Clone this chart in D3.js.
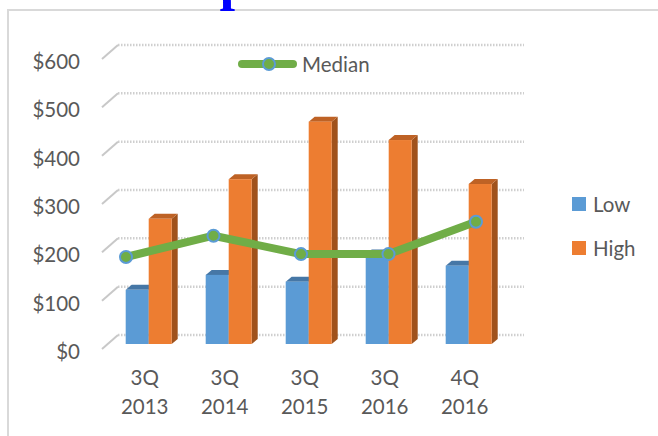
<!DOCTYPE html>
<html>
<head>
<meta charset="utf-8">
<script src="https://cdn.jsdelivr.net/npm/d3@7"></script>
<style>
  body { margin: 0; background: #fff; }
  text { font-family: Lato, 'Open Sans', sans-serif; fill: #595959; }
</style>
</head>
<body>
<svg id="chart"></svg>
<script>
// data
let quarters = ['3Q', '3Q', '3Q', '3Q', '4Q']
let years = ['2013', '2014', '2015', '2016', '2016']
let categories = ['3Q 2013', '3Q 2014', '3Q 2015', '3Q 2016', '4Q 2016']
let lowValues = [112, 143, 129, 185, 162]
let highValues = [259, 341, 460, 422, 331]
let medianValues = [180, 224, 186, 186, 253]
let yTicks = [0, 100, 200, 300, 400, 500, 600]
let seriesNames = ['Low', 'High']

let width = 658
let height = 436

// oblique "3D" offsets: floor depth and bar depth
let floorDx = 16, floorDy = -14
let barDx = 6, barDy = -5

let colors = { Low: '#5B9BD5', High: '#ED7D31' }
let topColors = { Low: '#4677A6', High: '#BE6225' }
let sideColors = { Low: '#3B6590', High: '#A0521C' }

let svg = d3.select('#chart').attr('width', width).attr('height', height)

// outer chart border (runs off the right and bottom edges)
svg.append('rect')
  .attr('x', 8).attr('y', 10)
  .attr('width', 700).attr('height', 500)
  .attr('fill', 'none')
  .attr('stroke', '#d9d9d9')
  .attr('stroke-width', 2)

// bit of a title cut off at the top
svg.append('text')
  .attr('x', 235).attr('y', -1)
  .attr('text-anchor', 'middle')
  .style('font-family', "'Liberation Serif', serif")
  .style('font-weight', 'bold')
  .style('font-size', '56px')
  .style('fill', '#0000ff')
  .text('p')

// scales
let yBack = d3.scaleLinear().domain([0, 600]).range([335, 45])
let yBar = v => yBack(v) + 9

let xGroup = d3.scaleBand()
  .domain(categories)
  .range([108.7, 508.7])
  .paddingInner(0.425)
  .paddingOuter(0.2125)

let xSub = d3.scaleBand().domain(seriesNames).range([0, xGroup.bandwidth()])

let xLine = d3.scalePoint().domain(categories).range([126, 476])

// back wall gridlines with a short floor diagonal at the left
let grid = svg.append('g')
grid.selectAll('line.h')
  .data(yTicks)
  .join('line')
  .attr('class', 'h')
  .attr('x1', 118).attr('x2', 524)
  .attr('y1', d => yBack(d)).attr('y2', d => yBack(d))
  .attr('stroke', '#cfcfcf')
  .attr('stroke-width', 2.5)
  .attr('stroke-dasharray', '1.5,1.5')
grid.selectAll('line.d')
  .data(yTicks)
  .join('line')
  .attr('class', 'd')
  .attr('x1', 118 - floorDx).attr('x2', 118)
  .attr('y1', d => yBack(d) - floorDy).attr('y2', d => yBack(d))
  .attr('stroke', '#c8c8c8')
  .attr('stroke-width', 2)

// y axis labels
svg.append('g')
  .selectAll('text')
  .data(yTicks)
  .join('text')
  .attr('x', 80)
  .attr('y', d => yBack(d) - floorDy + 2)
  .attr('text-anchor', 'end')
  .attr('dominant-baseline', 'central')
  .style('font-size', '20.5px')
  .text(d => '$' + d)

// bars, drawn as front face + top + right side
let barData = []
categories.forEach((c, i) => {
  barData.push({ cat: c, key: 'Low', value: lowValues[i] })
  barData.push({ cat: c, key: 'High', value: highValues[i] })
})

let bars = svg.append('g')
  .selectAll('g.bar')
  .data(barData)
  .join('g')
  .attr('class', 'bar')

bars.each(function (d) {
  let g = d3.select(this)
  let x0 = xGroup(d.cat) + xSub(d.key)
  let x1 = x0 + xSub.bandwidth()
  let yT = yBar(d.value)
  let yB = yBar(0)
  g.append('path')
    .attr('d', `M${x1},${yT}L${x1 + barDx},${yT + barDy}L${x1 + barDx},${yB + barDy}L${x1},${yB}Z`)
    .attr('fill', sideColors[d.key])
  g.append('path')
    .attr('d', `M${x0},${yT}L${x0 + barDx},${yT + barDy}L${x1 + barDx},${yT + barDy}L${x1},${yT}Z`)
    .attr('fill', topColors[d.key])
  g.append('rect')
    .attr('x', x0).attr('y', yT)
    .attr('width', x1 - x0).attr('height', yB - yT)
    .attr('fill', colors[d.key])
})

// category labels
let cat = svg.append('g')
  .selectAll('text')
  .data(categories)
  .join('text')
  .attr('x', d => xGroup(d) + xGroup.bandwidth() / 2 - 4)
  .attr('text-anchor', 'middle')
  .style('font-size', '20.5px')
cat.append('tspan')
  .attr('x', d => xGroup(d) + xGroup.bandwidth() / 2 - 4)
  .attr('y', 385)
  .text((d, i) => quarters[i])
cat.append('tspan')
  .attr('x', d => xGroup(d) + xGroup.bandwidth() / 2 - 4)
  .attr('y', 414)
  .text((d, i) => years[i])

// median line
let line = d3.line()
  .x((d, i) => xLine(categories[i]))
  .y(d => yBar(d))

svg.append('path')
  .datum(medianValues)
  .attr('d', line)
  .attr('fill', 'none')
  .attr('stroke', '#70AD47')
  .attr('stroke-width', 8)
  .attr('stroke-linejoin', 'round')

svg.append('g')
  .selectAll('circle')
  .data(medianValues)
  .join('circle')
  .attr('cx', (d, i) => xLine(categories[i]))
  .attr('cy', d => yBar(d))
  .attr('r', 6)
  .attr('fill', '#70AD47')
  .attr('stroke', '#5B9BD5')
  .attr('stroke-width', 2)

// legend: median
let legM = svg.append('g')
legM.append('line')
  .attr('x1', 242).attr('x2', 293)
  .attr('y1', 64).attr('y2', 64)
  .attr('stroke', '#70AD47')
  .attr('stroke-width', 8)
  .attr('stroke-linecap', 'round')
legM.append('circle')
  .attr('cx', 269).attr('cy', 64).attr('r', 6)
  .attr('fill', '#70AD47')
  .attr('stroke', '#5B9BD5')
  .attr('stroke-width', 2)
legM.append('text')
  .attr('x', 302).attr('y', 64)
  .attr('dominant-baseline', 'central')
  .style('font-size', '20.5px')
  .text('Median')

// legend: low / high
let legB = svg.append('g')
  .selectAll('g')
  .data(seriesNames)
  .join('g')
  .attr('transform', (d, i) => `translate(572, ${197 + i * 44})`)
legB.append('rect')
  .attr('width', 14).attr('height', 14)
  .attr('fill', d => colors[d])
legB.append('text')
  .attr('x', 21).attr('y', 7)
  .attr('dominant-baseline', 'central')
  .style('font-size', '20.5px')
  .text(d => d)
</script>
</body>
</html>
